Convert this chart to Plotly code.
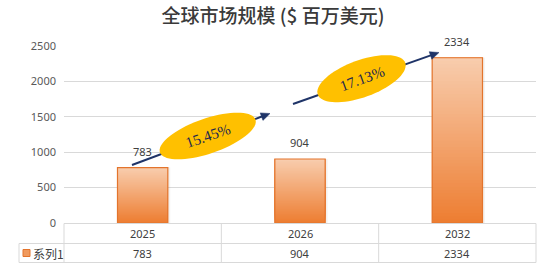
import math
import plotly.graph_objects as go

# ---- data ----
categories = ["2025", "2026", "2032"]
values = [783, 904, 2334]
series_name = "系列1"
growth_labels = ["15.45%", "17.13%"]
y_ticks = [0, 500, 1000, 1500, 2000, 2500]
title_text = "全球市场规模 ($ 百万美元)"

# ---- layout geometry (pixels) ----
W, H = 542, 272
ML, MR, MT, MB = 64, 6, 46, 49
PW = W - ML - MR
PH = H - MT - MB


def px2paper(px, py):
    return (px - ML) / PW, (H - MB - py) / PH


def hex2rgb(h):
    h = h.lstrip("#")
    return tuple(int(h[i:i + 2], 16) for i in (0, 2, 4))


def lerp_color(c1, c2, t):
    a, b = hex2rgb(c1), hex2rgb(c2)
    return "rgb(%d,%d,%d)" % tuple(round(a[i] + (b[i] - a[i]) * t) for i in range(3))


BOTTOM_C = "#ed7d31"
TOP_C = "#f8cdae"
BAR_W = 0.32
idx = list(range(len(categories)))

fig = go.Figure()

# soft shadow
fig.add_trace(go.Bar(x=idx, y=values, width=BAR_W, offset=-BAR_W / 2 + 0.015,
                     marker=dict(color="rgba(120,90,70,0.08)", line=dict(width=0)),
                     hoverinfo="skip", showlegend=False))

# gradient bars
N = 50
for i in range(N):
    t = i / N
    fig.add_trace(go.Bar(
        x=idx,
        y=[v * (1 - t) for v in values],
        base=[v * t for v in values],
        width=BAR_W, offset=-BAR_W / 2,
        marker=dict(color=lerp_color(BOTTOM_C, TOP_C, (i + 0.5) / N), line=dict(width=0)),
        hoverinfo="skip", showlegend=False))

# outline
fig.add_trace(go.Bar(x=idx, y=values, width=BAR_W, offset=-BAR_W / 2,
                     marker=dict(color="rgba(0,0,0,0)", line=dict(color="#e3742c", width=1.2)),
                     showlegend=False, hoverinfo="skip"))

shapes = []
annotations = []

# data labels
for k, v in zip(idx, values):
    annotations.append(dict(x=k, y=v, xref="x", yref="y", text=str(v), showarrow=False,
                            xanchor="center", yanchor="bottom", yshift=7,
                            font=dict(family="Noto Sans", size=11, color="#404040")))

# table lines
GRID = "#d9d9d9"
TL, TR = 19, 536
ty0, ty1, ty2 = 223.5, 243.5, 262.5


def seg(x0, y0, x1, y1):
    a = px2paper(x0, y0)
    b = px2paper(x1, y1)
    shapes.append(dict(type="line", xref="paper", yref="paper", x0=a[0], y0=a[1], x1=b[0], y1=b[1],
                       line=dict(color=GRID, width=1)))


seg(ML, ty0, TR, ty0)
seg(TL, ty1, TR, ty1)
seg(TL, ty2, TR, ty2)
seg(TL, ty1, TL, ty2)
ncat = len(categories)
for k in range(ncat + 1):
    xx = ML + PW * k / ncat
    seg(xx, ty0, xx, ty2)

# table text
for k, (c, v) in enumerate(zip(categories, values)):
    xc = (k + 0.5) / ncat
    annotations.append(dict(x=xc, y=px2paper(0, (ty0 + ty1) / 2)[1], xref="paper", yref="paper",
                            text=c, showarrow=False, xanchor="center", yanchor="middle",
                            font=dict(family="Noto Sans", size=11, color="#404040")))
    annotations.append(dict(x=xc, y=px2paper(0, (ty1 + ty2) / 2)[1], xref="paper", yref="paper",
                            text=str(v), showarrow=False, xanchor="center", yanchor="middle",
                            font=dict(family="Noto Sans", size=11, color="#404040")))

# legend key in table
ly = (ty1 + ty2) / 2
a = px2paper(23, ly - 3.5)
b = px2paper(30, ly + 3.5)
shapes.append(dict(type="rect", xref="paper", yref="paper", x0=a[0], y0=a[1], x1=b[0], y1=b[1],
                   fillcolor="#f09a5e", line=dict(color="#e3742c", width=1)))
annotations.append(dict(x=px2paper(31, 0)[0], y=px2paper(0, ly)[1], xref="paper", yref="paper",
                        text=series_name, showarrow=False, xanchor="left", yanchor="middle",
                        font=dict(family="Noto Sans CJK SC", size=12, color="#404040")))

# arrows (line + head) under the ellipses
ARROW_C = "#1f3468"


def arrow(tx, ty, hx, hy):
    L = math.hypot(hx - tx, hy - ty)
    ux, uy = (hx - tx) / L, (hy - ty) / L
    hl, hw = 9, 4
    bx, by = hx - ux * hl, hy - uy * hl
    p0 = px2paper(tx, ty)
    p1 = px2paper(bx + ux, by + uy)
    shapes.append(dict(type="line", xref="paper", yref="paper", x0=p0[0], y0=p0[1], x1=p1[0], y1=p1[1],
                       line=dict(color=ARROW_C, width=2)))
    pts = [(hx, hy), (bx - uy * hw, by + ux * hw), (bx + uy * hw, by - ux * hw)]
    pp = [px2paper(*p) for p in pts]
    path = "M %f %f L %f %f L %f %f Z" % (pp[0][0], pp[0][1], pp[1][0], pp[1][1], pp[2][0], pp[2][1])
    shapes.append(dict(type="path", xref="paper", yref="paper", path=path,
                       fillcolor=ARROW_C, line=dict(color=ARROW_C, width=0.5)))


arrow(132, 165, 270, 113.5)
arrow(293, 104, 439, 52.5)


def ellipse(cx, cy, a_, b_, deg):
    th = math.radians(deg)
    pts = []
    for k in range(73):
        ph = 2 * math.pi * k / 72
        x = cx + a_ * math.cos(ph) * math.cos(th) + b_ * math.sin(ph) * math.sin(th)
        y = cy - a_ * math.cos(ph) * math.sin(th) + b_ * math.sin(ph) * math.cos(th)
        pts.append(px2paper(x, y))
    path = "M " + " L ".join("%f %f" % p for p in pts) + " Z"
    shapes.append(dict(type="path", xref="paper", yref="paper", path=path,
                       fillcolor="#ffc000", line=dict(width=0)))


ell = [(207.7, 136, 50.5, 17.5, 19), (361.5, 78.7, 46.5, 18.5, 20)]
for (cx, cy, a_, b_, d), lab in zip(ell, growth_labels):
    ellipse(cx, cy, a_, b_, d)
    pc = px2paper(cx, cy)
    annotations.append(dict(x=pc[0], y=pc[1], xref="paper", yref="paper", text=lab,
                            showarrow=False, textangle=-d, xanchor="center", yanchor="middle",
                            font=dict(family="Liberation Serif", size=15, color="#1a2550")))

fig.update_layout(
    width=W, height=H,
    margin=dict(l=ML, r=MR, t=MT, b=MB, autoexpand=False),
    paper_bgcolor="white", plot_bgcolor="white",
    barmode="overlay",
    showlegend=False,
    title=dict(text=title_text, x=273 / W, xanchor="center", y=1 - 16.5 / H, yanchor="middle",
               xref="container", yref="container",
               font=dict(family="Noto Sans CJK SC", size=19, color="#3a3a3a", weight=500)),
    xaxis=dict(showticklabels=False, showgrid=False, zeroline=False,
               showline=False, ticks="", range=[-0.5, len(categories) - 0.5]),
    yaxis=dict(range=[0, 2500], tickvals=y_ticks, showgrid=True, gridcolor=GRID, gridwidth=1,
               zeroline=False, showline=False, ticks="", ticklabelstandoff=7,
               tickfont=dict(family="Noto Sans", size=11, color="#595959")),
    shapes=shapes,
    annotations=annotations,
)

fig.write_html("out.html")
